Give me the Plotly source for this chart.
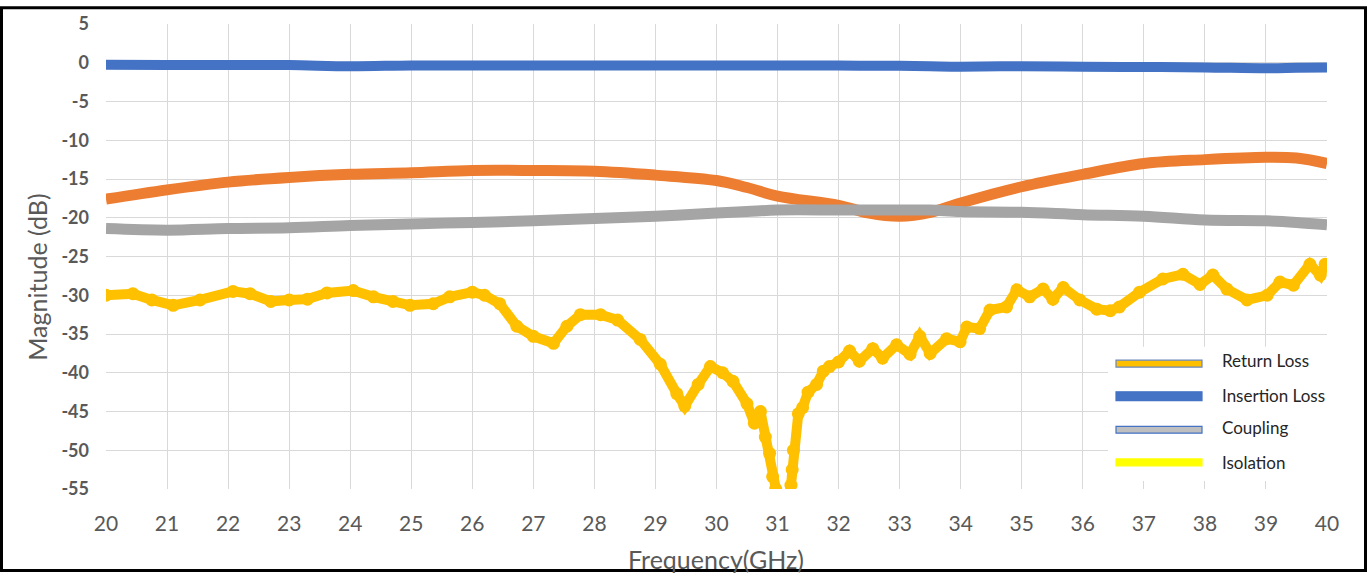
import plotly.graph_objects as go

# ---------------- data ----------------
freq_grid = [20, 21, 22, 23, 24, 25, 26, 27, 28, 29, 30, 30.5, 31, 32, 32.5, 33, 33.5, 34, 35, 36, 37, 38, 39, 39.5, 40]

insertion_loss = [-0.25, -0.3, -0.3, -0.3, -0.45, -0.35, -0.35, -0.35, -0.35, -0.35, -0.35, -0.35, -0.35,
                  -0.35, -0.4, -0.4, -0.45, -0.5, -0.45, -0.5, -0.55, -0.6, -0.7, -0.65, -0.6]

orange_loss = [-17.6, -16.4, -15.4, -14.8, -14.4, -14.2, -13.9, -13.9, -14.0, -14.5, -15.2, -16.1, -17.2,
               -18.4, -19.4, -19.8, -19.3, -18.1, -16.0, -14.4, -13.0, -12.5, -12.2, -12.3, -13.0]

coupling = [-21.4, -21.6, -21.4, -21.3, -21.0, -20.8, -20.6, -20.4, -20.1, -19.8, -19.4, -19.2, -19.0,
            -19.0, -19.0, -19.0, -19.0, -19.2, -19.3, -19.6, -19.8, -20.3, -20.4, -20.6, -20.9]

gold_x = [20.0, 20.44, 20.75, 21.1, 21.54, 22.08, 22.36, 22.7, 23.0, 23.3, 23.62, 24.05, 24.38, 24.7,
          24.98, 25.36, 25.63, 26.0, 26.2, 26.45, 26.73, 27.0, 27.33, 27.55, 27.77, 28.1, 28.38, 28.75,
          29.08, 29.35, 29.48, 29.7, 29.9, 30.1, 30.27, 30.5, 30.62, 30.72, 30.8, 30.87, 30.92, 30.97,
          31.1, 31.22, 31.24, 31.26, 31.34, 31.41, 31.5, 31.64, 31.75, 31.85, 32.0, 32.18, 32.34, 32.56,
          32.72, 32.95, 33.17, 33.33, 33.5, 33.77, 33.99, 34.1, 34.31, 34.48, 34.75, 34.92, 35.13, 35.35,
          35.51, 35.68, 35.95, 36.23, 36.45, 36.6, 36.93, 37.31, 37.64, 37.92, 38.13, 38.36, 38.69, 39.02,
          39.23, 39.45, 39.72, 39.89, 39.97]
gold_y = [-30.0, -29.8, -30.6, -31.3, -30.6, -29.5, -29.8, -30.8, -30.6, -30.5, -29.7, -29.4, -30.2, -30.8,
          -31.3, -31.1, -30.2, -29.6, -30.0, -31.1, -34.0, -35.3, -36.2, -34.0, -32.5, -32.5, -33.2, -35.7,
          -38.9, -42.7, -44.3, -41.5, -39.2, -40.0, -41.1, -44.0, -46.5, -45.0, -48.3, -50.4, -53.4, -55.0,
          -60.0, -54.5, -52.5, -50.0, -45.3, -44.5, -42.5, -41.5, -39.8, -39.2, -38.6, -37.2, -38.5, -36.9,
          -38.1, -36.4, -37.6, -35.3, -37.5, -35.6, -36.0, -34.1, -34.3, -31.9, -31.5, -29.3, -30.2, -29.2,
          -30.5, -29.0, -30.6, -31.8, -32.0, -31.5, -29.6, -27.9, -27.3, -28.6, -27.4, -29.2, -30.6, -30.0,
          -28.3, -28.7, -26.0, -27.4, -26.0]

x_ticks = list(range(20, 41))
y_ticks = list(range(5, -56, -5))

legend_labels = ["Return Loss", "Insertion Loss", "Coupling", "Isolation"]
legend_fill = ["#FFC000", "#4472C4", "#BFBFBF", "#FFFF00"]
legend_edge = ["#6A86BD", "#4472C4", "#4472C4", "#FFFF00"]

# ---------------- geometry helpers ----------------
W, H = 1367, 573
L, R, T, B = 106, 1327, 18, 489


def xp(px):
    return (px - L) / (R - L)


def yp(py):
    return (B - py) / (B - T)


fig = go.Figure()

fig.add_trace(go.Scatter(x=gold_x, y=gold_y, mode="lines+markers",
                         line=dict(color="#FFC000", width=10),
                         marker=dict(color="#FFC000", size=13), showlegend=False))
fig.add_trace(go.Scatter(x=freq_grid, y=orange_loss, mode="lines", line_shape="spline",
                         line=dict(color="#ED7D31", width=11), showlegend=False))
fig.add_trace(go.Scatter(x=freq_grid, y=coupling, mode="lines", line_shape="spline",
                         line=dict(color="#A5A5A5", width=11), showlegend=False))
fig.add_trace(go.Scatter(x=freq_grid, y=insertion_loss, mode="lines", line_shape="spline",
                         line=dict(color="#4472C4", width=10), showlegend=False))

shapes = []
# white legend box
shapes.append(dict(type="rect", xref="paper", yref="paper",
                   x0=xp(1108), x1=xp(1345), y0=yp(481), y1=yp(345),
                   fillcolor="white", line=dict(width=0), layer="above"))
annotations = []
centers = [362, 395, 429, 462]
text_centers = [359, 394, 427, 462]
heights = [7, 9, 7, 7]
for lab, fc, ec, cy, ty, h in zip(legend_labels, legend_fill, legend_edge, centers, text_centers, heights):
    shapes.append(dict(type="rect", xref="paper", yref="paper",
                       x0=xp(1116), x1=xp(1202), y0=yp(cy + h / 2), y1=yp(cy - h / 2),
                       fillcolor=fc, line=dict(color=ec, width=1.2), layer="above"))
    annotations.append(dict(text=lab, xref="paper", yref="paper", x=xp(1220), y=yp(ty),
                            xanchor="left", yanchor="middle", showarrow=False,
                            font=dict(family="Lato", size=17, color="#262626")))

# outer black frame
shapes.append(dict(type="rect", xref="paper", yref="paper",
                   x0=xp(1.5), x1=xp(1365.5), y0=yp(571.5), y1=yp(1.5),
                   line=dict(color="black", width=3), fillcolor="rgba(0,0,0,0)", layer="above"))

annotations.append(dict(text="Magnitude (dB)", xref="paper", yref="paper", x=xp(37), y=yp(275),
                        xanchor="center", yanchor="middle", textangle=-90, showarrow=False,
                        font=dict(family="Lato", size=25, color="#595959")))
annotations.append(dict(text="Frequency(GHz)", xref="paper", yref="paper", x=xp(716), y=yp(560),
                        xanchor="center", yanchor="middle", showarrow=False,
                        font=dict(family="Lato", size=25, color="#595959")))

fig.update_layout(
    width=W, height=H,
    margin=dict(l=L, r=W - R, t=T, b=H - B),
    paper_bgcolor="white", plot_bgcolor="white",
    shapes=shapes, annotations=annotations,
    xaxis=dict(range=[20, 40], tickvals=x_ticks, ticktext=[str(v) for v in x_ticks],
               showgrid=True, gridcolor="#D9D9D9", gridwidth=1, zeroline=False,
               showline=False, ticks="", ticklabelstandoff=20,
               tickfont=dict(family="Lato", size=21, color="#595959")),
    yaxis=dict(range=[-55, 5], tickvals=y_ticks, ticktext=[str(v) for v in y_ticks],
               showgrid=True, gridcolor="#D9D9D9", gridwidth=1, zeroline=False,
               showline=False, ticks="", ticklabelstandoff=16,
               tickfont=dict(family="Lato", size=18, color="#595959", weight="bold")),
)

fig.write_html("out.html", config={"displayModeBar": False},
               post_script="document.body.style.margin='0';document.body.style.overflow='hidden';")
